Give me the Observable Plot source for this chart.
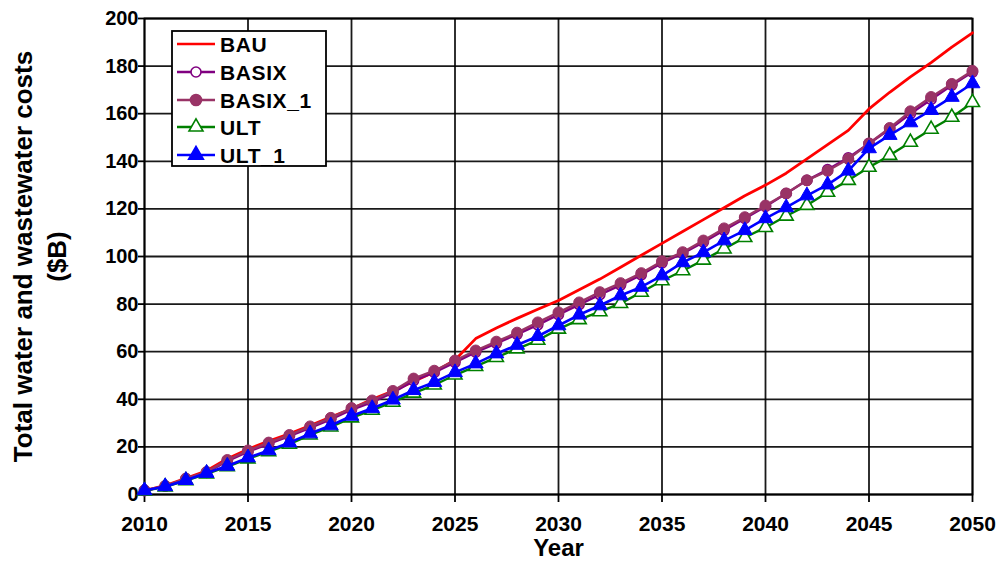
<!DOCTYPE html>
<html><head><meta charset="utf-8">
<script src="https://cdn.jsdelivr.net/npm/d3@7"></script>
<script src="https://cdn.jsdelivr.net/npm/@observablehq/plot@0.6"></script>
<style>
body{margin:0;background:#fff;}
#wrap{position:relative;width:1000px;height:561px;overflow:hidden;}
#legend{position:absolute;left:0;top:0;}
</style></head><body><div id="wrap"></div>
<script>
const years = [2010,2011,2012,2013,2014,2015,2016,2017,2018,2019,2020,2021,2022,2023,2024,2025,2026,2027,2028,2029,2030,2031,2032,2033,2034,2035,2036,2037,2038,2039,2040,2041,2042,2043,2044,2045,2046,2047,2048,2049,2050];
const bau = [1.5,3.8,6.8,10,15,19,22.5,25.5,29,32.5,36,40,43.5,47.5,51.5,56.5,65.5,70,74,77.8,81.5,86,90.5,95.5,100.5,105.5,110.5,115.5,120.5,125.5,130,135,141,147,153,162,169,175.5,181.5,188,194];
const basix = [1.6,3.5,6.5,9.3,14,18,21.3,24.5,28,31.6,35.6,38.8,42.8,47.8,51.3,55.5,59.8,63.5,67.3,71.3,75.6,79.8,84,88,92.3,97.3,101.3,106,111,116,121,126.5,132,136.5,141.5,147.5,153.5,160,166,172,177.5];
const basix1 = [1.8,3.6,6.7,9.5,14.5,18.5,21.8,25,28.6,32.2,36.3,39.5,43.5,48.7,52,56.3,60.5,64.2,68,72.3,76.5,80.7,85,88.8,93,98,101.8,106.7,111.8,116.5,121.4,126.5,132,136,141,147.5,154,161,167,172.5,178];
const ult = [1.5,3.2,5.8,8.7,11.7,15,18,21.2,25,28.4,32.2,35.4,38.8,42.6,46,50.2,53.8,57.6,61.2,64.8,69.5,73.5,76.8,80.3,85,89.8,94,98.5,103.2,108,112.2,117,121.5,127,132,137.5,142.5,148,153.5,158.5,164.7];
const ult1 = [1.7,3.4,6,9,12,15.5,18.5,21.8,25.6,29,33,36.2,39.8,43.8,47.2,51.3,55,59.2,62.8,66.5,71,75.5,79.4,83.6,87.2,92,97.5,101.7,106.7,111,116,120.6,125.6,130.2,136,145.4,151,156.3,161.5,167,172.7];
const seriesNames = ["BAU","BASIX","BASIX_1","ULT","ULT_1"];
const xTicks = [2010,2015,2020,2025,2030,2035,2040,2045,2050];
const yTicks = [0,20,40,60,80,100,120,140,160,180,200];
const yTitle = "Total water and wastewater costs\n($B)";
const xTitle = "Year";

const colors = {BAU:"#ff0000", BASIX:"#800080", BASIX_1:"#993366", ULT:"#008000", ULT_1:"#0000ff"};
const values = {BAU:bau, BASIX:basix, BASIX_1:basix1, ULT:ult, ULT_1:ult1};
const table = {};
for (const s of seriesNames) table[s] = years.map((y,i)=>({year:y, value:values[s][i], series:s}));

const font = "'Liberation Sans', Arial, sans-serif";
const gridStyle = {stroke:"#000", strokeOpacity:0.9, strokeWidth:1.8};
const marks = [
  Plot.gridX(xTicks, gridStyle),
  Plot.gridY(yTicks, gridStyle),
  Plot.frame({stroke:"#000", strokeWidth:1.8}),
  Plot.axisX(xTicks, {tickSize:8, tickFormat:() => "", label:null, stroke:"#000", strokeWidth:1.8}),
  Plot.text(xTicks, {x:d=>d, text:d=>String(d), frameAnchor:"bottom", textAnchor:"middle", lineAnchor:"middle", dy:30, fontSize:21, fontWeight:"bold", fill:"#000"}),
  Plot.axisY(yTicks, {tickSize:6, tickPadding:0, fontSize:20, label:null, stroke:"#000", strokeWidth:1.8}),
  Plot.text([yTitle], {frameAnchor:"left", textAnchor:"middle", lineAnchor:"middle", rotate:-90, dx:-106, fontSize:26, fontWeight:"bold", lineHeight:1.3, fill:"#000"}),
  Plot.text([xTitle], {frameAnchor:"bottom", textAnchor:"middle", lineAnchor:"middle", dy:54, fontSize:24, fontWeight:"bold", fill:"#000"}),
  Plot.line(table.BAU, {x:"year", y:"value", stroke:colors.BAU, strokeWidth:2.8}),
  Plot.line(table.BASIX, {x:"year", y:"value", stroke:colors.BASIX, strokeWidth:2.4}),
  Plot.dot(table.BASIX, {x:"year", y:"value", symbol:"circle", r:5, fill:"#fff", stroke:colors.BASIX, strokeWidth:1.6}),
  Plot.line(table.BASIX_1, {x:"year", y:"value", stroke:colors.BASIX_1, strokeWidth:2.4}),
  Plot.dot(table.BASIX_1, {x:"year", y:"value", symbol:"circle", r:5.5, fill:colors.BASIX_1, stroke:colors.BASIX_1, strokeWidth:1}),
  Plot.line(table.ULT, {x:"year", y:"value", stroke:colors.ULT, strokeWidth:2.4}),
  Plot.dot(table.ULT, {x:"year", y:"value", symbol:"triangle", r:5.2, fill:"#fff", stroke:colors.ULT, strokeWidth:1.6}),
  Plot.line(table.ULT_1, {x:"year", y:"value", stroke:colors.ULT_1, strokeWidth:2.6}),
  Plot.dot(table.ULT_1, {x:"year", y:"value", symbol:"triangle", r:5.5, fill:colors.ULT_1, stroke:colors.ULT_1, strokeWidth:1})
];

const chart = Plot.plot({
  width:1000, height:561,
  marginLeft:144, marginRight:28, marginTop:18, marginBottom:67,
  style:{fontFamily:font, fontWeight:"bold", color:"#000", background:"#fff", overflow:"visible"},
  x:{domain:[2010,2050]},
  y:{domain:[0,200]},
  marks
});
const wrap = document.getElementById("wrap");
wrap.appendChild(chart);

// Legend overlay
const lg = d3.select(wrap).append("svg").attr("id","legend").attr("width",1000).attr("height",561)
  .style("font-family", font);
lg.append("rect").attr("x",172).attr("y",31).attr("width",154).attr("height",135)
  .attr("fill","#fff").attr("stroke","#000").attr("stroke-width",1.8);
const rowY = [44,72,100,127,155];
const sym = {BASIX:{t:d3.symbolCircle, r:5, fill:"#fff"}, BASIX_1:{t:d3.symbolCircle, r:5.5, fill:colors.BASIX_1}, ULT:{t:d3.symbolTriangle, r:5.2, fill:"#fff"}, ULT_1:{t:d3.symbolTriangle, r:5.5, fill:colors.ULT_1}};
seriesNames.forEach((s,i)=>{
  const y = rowY[i];
  lg.append("line").attr("x1",177).attr("x2",215).attr("y1",y).attr("y2",y)
    .attr("stroke",colors[s]).attr("stroke-width",2.6);
  if (sym[s]) {
    const m = sym[s];
    lg.append("path").attr("d", d3.symbol(m.t, Math.PI*m.r*m.r)())
      .attr("transform",`translate(196,${y})`)
      .attr("fill",m.fill).attr("stroke",colors[s]).attr("stroke-width",1.6);
  }
  lg.append("text").attr("x",220).attr("y",y).attr("dy","0.36em")
    .attr("font-size",21).attr("font-weight","bold").attr("letter-spacing","0.6px")
    .attr("fill","#000").text(s);
});
</script></body></html>
